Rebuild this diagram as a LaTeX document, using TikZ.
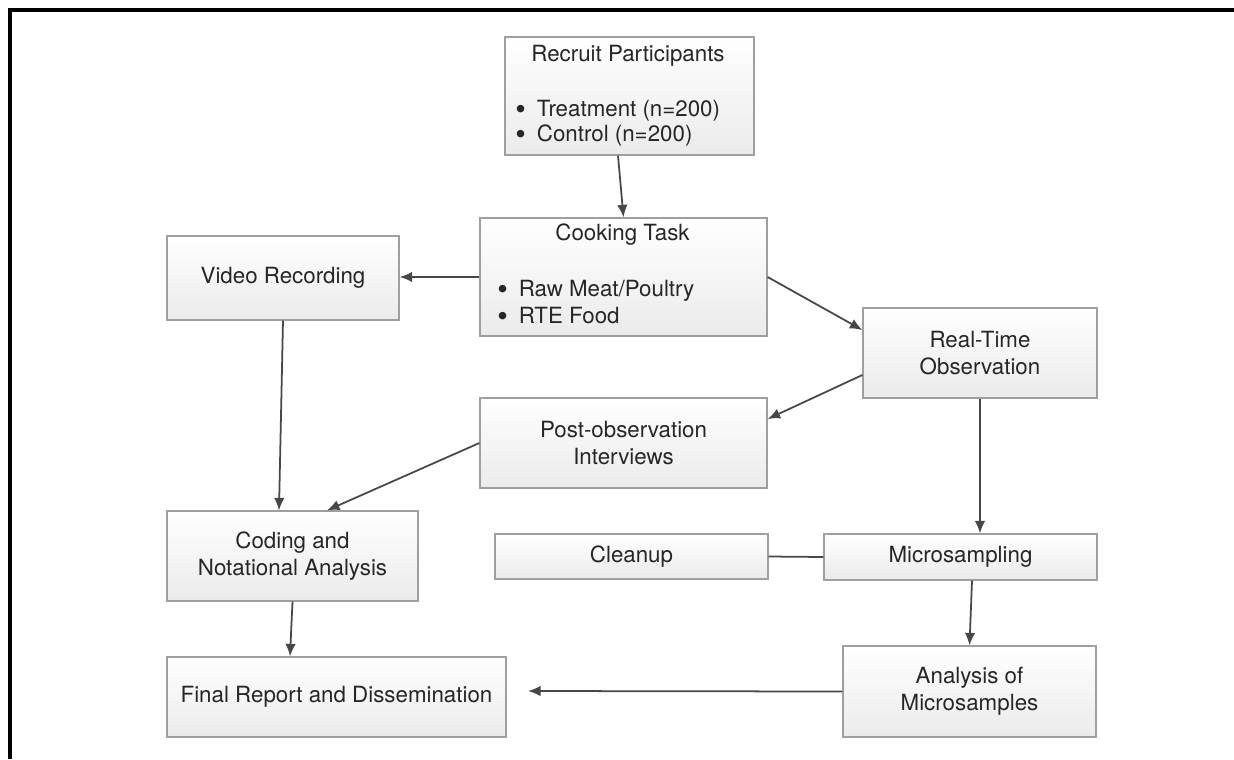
\documentclass[tikz,border=0pt]{standalone}
\usepackage{fontspec}
\setmainfont{TeX Gyre Heros}
\usetikzlibrary{shadows,arrows.meta}
\newcommand{\listdot}{\raisebox{-0.25ex}{\scalebox{1.35}{\textbullet}}\hspace{0.22cm}}

\tikzset{
  box/.style={draw=gray!75, line width=0.7pt, top color=white, bottom color=gray!16,
    drop shadow={shadow xshift=0.7pt, shadow yshift=-0.7pt, fill=gray!95, opacity=1},
    text=black!85, align=center, inner sep=0pt},
  txt/.style={text=black!85, inner sep=0pt, align=left},
  arr/.style={->, >={Latex[length=0.25cm,width=0.21cm]}, draw=black!72, fill=black!72, line width=1pt},
  link/.style={draw=black!72, line width=1pt}
}

\begin{document}
\begin{tikzpicture}[font=\fontsize{12.7}{15.4}\selectfont]
\useasboundingbox (0,0) rectangle (24.68,-15.18);
\draw[line width=0.08cm] (0.2,-15.18) -- (0.2,-0.2) -- (24.68,-0.2);

% boxes
\node[box, minimum width=4.98cm, minimum height=2.36cm] (recruit) at (12.59,-1.92) {};
\node[txt] (recruittitle) at (12.56,-1.12) {Recruit Participants};
\node[txt, anchor=west, font=\fontsize{12.7}{14}\selectfont] (recruitlist) at (10.30,-2.47)
  {\listdot Treatment (n=200)\\ \listdot Control (n=200)};

\node[box, minimum width=5.74cm, minimum height=2.36cm] (cooking) at (12.47,-5.54) {};
\node[txt] (cookingtitle) at (12.45,-4.70) {Cooking Task};
\node[txt, anchor=west] (cookinglist) at (9.94,-6.06)
  {\listdot Raw Meat/Poultry\\ \listdot RTE Food};

\node[box, minimum width=4.64cm, minimum height=1.68cm] (video) at (5.66,-5.56) {Video Recording};
\node[box, minimum width=4.68cm, minimum height=1.80cm] (rto) at (19.60,-7.06) {Real-Time\\Observation};
\node[box, minimum width=5.74cm, minimum height=1.80cm] (post) at (12.47,-8.86) {Post-observation\\Interviews};
\node[box, minimum width=5.02cm, minimum height=1.80cm] (coding) at (5.85,-11.12) {Coding and\\Notational Analysis};
\node[box, minimum width=5.46cm, minimum height=0.90cm] (cleanup) at (12.63,-11.13) {Cleanup};
\node[box, minimum width=5.46cm, minimum height=0.92cm] (micro) at (19.21,-11.14) {Microsampling};
\node[box, minimum width=5.06cm, minimum height=1.82cm] (analysis) at (19.39,-13.83) {Analysis of\\Microsamples};
\node[box, minimum width=6.78cm, minimum height=1.60cm] (final) at (6.73,-13.94) {Final Report and Dissemination};
\coordinate (finalin) at (10.56,-13.82);

% connectors
\draw[arr] ([xshift=-0.23cm]recruit.south) -- (cooking.north);
\draw[arr] (cooking.west) -- (cooking.west -| video.east);
\draw[arr] (cooking.east) -- ([yshift=0.46cm]rto.west);
\draw[arr] ([yshift=-0.44cm]rto.west) -- ([yshift=0.48cm]post.east);
\draw[arr] (post.west) -- ([xshift=0.69cm]coding.north);
\draw[arr] (video.south) -- ([xshift=-0.27cm]coding.north);
\draw[arr] (rto.south) -- (rto.south |- micro.north);
\draw[link] (cleanup.east) -- (micro.west);
\draw[arr] ([xshift=0.23cm]micro.south) -- (analysis.north);
\draw[arr] (coding.south) -- ([xshift=-0.93cm]final.north);
\draw[arr] (analysis.west) -- (finalin);
\end{tikzpicture}
\end{document}
